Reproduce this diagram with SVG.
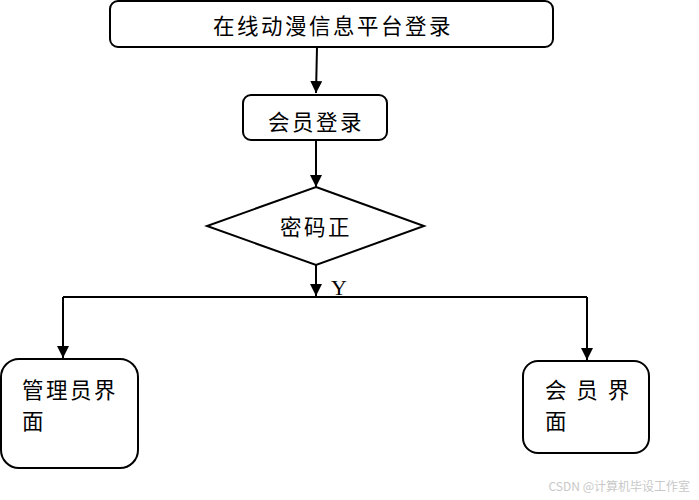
<svg xmlns="http://www.w3.org/2000/svg" width="699" height="500" viewBox="0 0 699 500">
<style>
.box{fill:#fff;stroke:#000;stroke-width:2}
.t{font-family:"Noto Sans CJK SC","Noto Sans",sans-serif;font-size:21.5px;fill:#000;letter-spacing:2.5px}
.c{text-anchor:middle;dominant-baseline:central}
.l{dominant-baseline:central}
.ln{fill:none;stroke:#000;stroke-width:2}
</style>
<defs>
<marker id="ah" viewBox="0 0 12 12" refX="12" refY="6" markerWidth="12" markerHeight="12" markerUnits="userSpaceOnUse" orient="auto">
<path d="M0,0 L12,6 L0,12 Z" fill="#000"/>
</marker>
</defs>
<rect width="699" height="500" fill="#fff"/>
<g id="connectors">
<path class="ln" d="M317,47 L316,93" marker-end="url(#ah)"/>
<path class="ln" d="M316,140 L316,187" marker-end="url(#ah)"/>
<path class="ln" d="M316,265 L316,296" marker-end="url(#ah)"/>
<path class="ln" d="M63,297 L587,297"/>
<path class="ln" d="M63,297 L63,358" marker-end="url(#ah)"/>
<path class="ln" d="M587,297 L587,360" marker-end="url(#ah)"/>
<text x="339" y="295" font-family="Liberation Serif,serif" font-size="22" text-anchor="middle">Y</text>
</g>
<g id="start">
<rect class="box" x="110" y="1" width="443" height="46" rx="8"/>
<text class="t c" x="333" y="24">在线动漫信息平台登录</text>
</g>
<g id="login">
<rect class="box" x="243" y="95" width="144" height="45" rx="8"/>
<text class="t c" x="316" y="120">会员登录</text>
</g>
<g id="check">
<polygon class="box" points="316,187 424,226 316,265 207,226"/>
<text class="t c" x="316" y="225">密码正</text>
</g>
<g id="admin">
<rect class="box" x="1" y="359" width="137" height="109" rx="18"/>
<text class="t l" x="22" y="388">管理员界</text>
<text class="t l" x="22" y="419">面</text>
</g>
<g id="member">
<rect class="box" x="523" y="361" width="126" height="92" rx="15"/>
<text class="t l" x="545" y="388">会 员 界</text>
<text class="t l" x="545" y="419">面</text>
</g>
<text x="690" y="491" font-family="Noto Sans CJK SC,sans-serif" font-size="12" fill="#c8c8c8" text-anchor="end">CSDN @计算机毕设工作室</text>
</svg>
